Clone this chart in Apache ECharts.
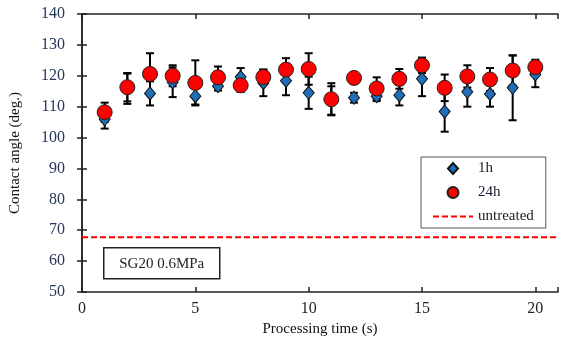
<!DOCTYPE html>
<html>
<head>
<meta charset="utf-8">
<script src="https://cdn.jsdelivr.net/npm/echarts@6/dist/echarts.min.js"></script>
<style>
  html, body { margin: 0; padding: 0; background: #fff; }
  #main { width: 561px; height: 350px; }
</style>
</head>
<body>
<div id="main"></div>
<script>
const times = [1, 2, 3, 4, 5, 6, 7, 8, 9, 10, 11, 12, 13, 14, 15, 16, 17, 18, 19, 20];
const mean1h = [105.9, 115.8, 114.3, 117.9, 113.4, 116.6, 119.6, 117.7, 118.4, 114.5,
                112.0, 112.9, 113.4, 113.7, 119.0, 108.4, 114.8, 114.1, 116.1, 120.4];
const err1h = [3.0, 4.9, 3.9, 4.8, 2.7, 1.4, 2.9, 4.3, 4.7, 5.2,
               4.6, 1.6, 1.6, 3.3, 5.6, 6.5, 4.8, 4.1, 10.5, 4.1];
const mean24h = [108.2, 116.3, 120.6, 120.0, 117.7, 119.5, 116.9, 119.6, 122.0, 122.2,
                 112.4, 119.3, 115.9, 119.0, 123.4, 116.1, 119.8, 118.8, 121.7, 122.8];
const err24h = [3.1, 4.6, 6.7, 3.4, 7.3, 3.5, 2.1, 2.4, 3.7, 5.1,
                5.2, 1.5, 3.6, 3.2, 2.5, 4.3, 3.6, 3.7, 4.9, 2.4];
const untreated = 67.7;
const xTicks = [0, 5, 10, 15, 20];
const yTicks = [50, 60, 70, 80, 90, 100, 110, 120, 130, 140];

const chart = echarts.init(document.getElementById("main"));

const serif = "'Liberation Serif', 'DejaVu Serif', serif";

// error bar rows: [x, low, high]
const bars = (means, errs) => times.map((t, i) => [t, means[i] - errs[i], means[i] + errs[i]]);

function drawBar(params, api) {
  const x = api.value(0);
  const lo = api.coord([x, api.value(1)]);
  const hi = api.coord([x, api.value(2)]);
  const cap = 4;
  const style = { stroke: "#000", lineWidth: 2 };
  return {
    type: "group",
    children: [
      { type: "line", shape: { x1: lo[0], y1: lo[1], x2: hi[0], y2: hi[1] }, style: style },
      { type: "line", shape: { x1: lo[0] - cap, y1: lo[1], x2: lo[0] + cap, y2: lo[1] }, style: style },
      { type: "line", shape: { x1: hi[0] - cap, y1: hi[1], x2: hi[0] + cap, y2: hi[1] }, style: style },
    ],
  };
}

const axisLine = { show: true, lineStyle: { color: "#222", width: 1.5 } };
const axisTick = { show: true, inside: true, length: 5, lineStyle: { color: "#222", width: 1.5 } };

// dashed red segment used as the legend icon of the reference line
const dashIcon = "path://M0,0 h6 v2 h-6 Z M9,0 h6 v2 h-6 Z M18,0 h6 v2 h-6 Z M27,0 h6 v2 h-6 Z M36,0 h4 v2 h-4 Z";

const option = {
  animation: false,
  grid: { left: 81, right: 1, top: 14, bottom: 58 },
  xAxis: [
    {
      type: "value", min: 0, max: 21, interval: 5,
      name: "Processing time (s)", nameLocation: "middle", nameGap: 29,
      nameTextStyle: { fontFamily: serif, fontSize: 15, color: "#111" },
      axisLine: axisLine, axisTick: axisTick, splitLine: { show: false },
      axisLabel: {
        fontFamily: serif, fontSize: 16, color: "#222", margin: 9,
        formatter: (v) => (xTicks.includes(v) ? String(v) : ""),
      },
    },
    {
      type: "value", min: 0, max: 21, interval: 5, position: "top",
      axisLine: axisLine, axisTick: axisTick, axisLabel: { show: false }, splitLine: { show: false },
    },
  ],
  yAxis: [
    {
      type: "value", min: 50, max: 140, interval: 10,
      name: "Contact angle (deg.)", nameLocation: "middle", nameGap: 59,
      nameTextStyle: { fontFamily: serif, fontSize: 15, color: "#111" },
      axisLine: axisLine, axisTick: axisTick, splitLine: { show: false },
      axisLabel: {
        fontFamily: serif, fontSize: 16, color: "#26365a", margin: 17,
        formatter: (v) => (yTicks.includes(v) ? String(v) : ""),
      },
    },
    {
      type: "value", min: 50, max: 140, interval: 10, position: "right",
      axisLine: axisLine, axisTick: axisTick, axisLabel: { show: false }, splitLine: { show: false },
    },
  ],
  legend: {
    orient: "vertical",
    left: 421, top: 157,
    padding: [4, 12, 4, 12],
    itemWidth: 40, itemHeight: 11, itemGap: 9,
    symbolKeepAspect: true,
    borderColor: "#555", borderWidth: 1,
    textStyle: { fontFamily: serif, fontSize: 15, color: "#1a1a2a" },
    data: [
      { name: "1h", icon: "path://M5,0 L10,5.5 L5,11 L0,5.5 Z" },
      { name: "24h", icon: "path://M0,5.5 A5.5,5.5 0 1,0 11,5.5 A5.5,5.5 0 1,0 0,5.5 Z" },
      { name: "untreated", icon: dashIcon, itemStyle: { color: "#ff0000", borderWidth: 0 } },
    ],
  },
  graphic: [
    {
      type: "group", left: 103, top: 247,
      children: [
        { type: "rect", shape: { x: 0, y: 0, width: 116, height: 31 },
          style: { fill: "#fff", stroke: "#222", lineWidth: 1.5 } },
        { type: "text", x: 58, y: 16,
          style: { text: "SG20 0.6MPa", fontFamily: serif, fontSize: 15, fill: "#222",
                   align: "center", verticalAlign: "middle" } },
      ],
    },
  ],
  series: [
    {
      name: "untreated", type: "line", symbol: "none", z: 1,
      data: [[0, untreated], [21, untreated]],
      lineStyle: { color: "#ff0000", width: 2, type: [6, 3] },
      itemStyle: { color: "#ff0000" },
    },
    { name: "err1h", type: "custom", renderItem: drawBar, data: bars(mean1h, err1h), z: 2,
      encode: { x: 0, y: [1, 2] } },
    { name: "err24h", type: "custom", renderItem: drawBar, data: bars(mean24h, err24h), z: 2,
      encode: { x: 0, y: [1, 2] } },
    {
      name: "1h", type: "scatter", symbol: "diamond", symbolSize: [11, 13], z: 3,
      data: times.map((t, i) => [t, mean1h[i]]),
      itemStyle: { color: "#1f6fb8", borderColor: "#111", borderWidth: 1, opacity: 1 },
    },
    {
      name: "24h", type: "scatter", symbol: "circle", symbolSize: 15, z: 4,
      data: times.map((t, i) => [t, mean24h[i]]),
      itemStyle: { color: "#ff0000", borderColor: "#222", borderWidth: 1, opacity: 1 },
    },
  ],
};

chart.setOption(option);
</script>
</body>
</html>
